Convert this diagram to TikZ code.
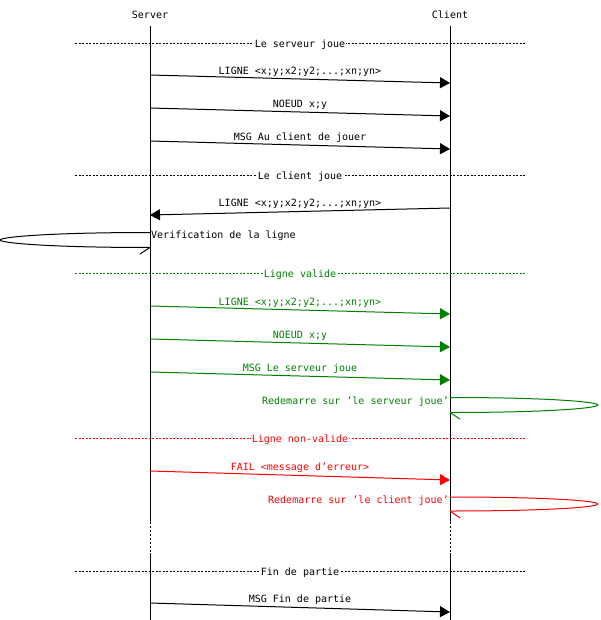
\documentclass[tikz,border=0pt]{standalone}
\usepackage{fontspec}
\setmainfont{DejaVu Sans Mono}
\usepackage{tikz}
\usetikzlibrary{arrows.meta}
\definecolor{okgreen}{RGB}{0,128,0}
\definecolor{errred}{RGB}{255,0,0}

\begin{document}
\begin{tikzpicture}[
			x=1pt, y=-1pt,
			font=\fontsize{10pt}{12pt}\selectfont,
			lifeline/.style={line width=1pt},
			gapline/.style={line width=1pt,dash pattern=on 2pt off 2pt},
			divider/.style={line width=0.8pt,dash pattern=on 2pt off 1.5pt},
			divlabel/.style={midway,fill=white,inner sep=1pt,yshift=-1.5pt},
			msg/.style={line width=1pt,-{Triangle[length=10pt,width=11pt]}},
			msglabel/.style={midway,above=-1pt},
			selfarc/.style={line width=1pt},
			arclabel/.style={inner sep=1pt,yshift=-2pt}
			]
			
			\useasboundingbox (0,0) rectangle (600,620);
			
			\node (srv) at (150,15) {Server};
			\node (cli) at (450,15) {Client};
			
			\coordinate (srvtop) at (150,26);
			\coordinate (srvgap) at (150,522);
			\coordinate (srvres) at (150,553);
			\coordinate (srvend) at (150,620);
			\coordinate (clitop) at (450,26);
			\coordinate (cligap) at (450,522);
			\coordinate (clires) at (450,553);
			\coordinate (cliend) at (450,620);
			
			\draw[lifeline] (srvtop)--(srvgap);
			\draw[gapline] (srvgap)--(srvres);
			\draw[lifeline] (srvres)--(srvend);
			\draw[lifeline] (clitop)--(cligap);
			\draw[gapline] (cligap)--(clires);
			\draw[lifeline] (clires)--(cliend);
			
			\coordinate (d1l) at (75,43);   \coordinate (d1r) at (525,43);
			\coordinate (d2l) at (75,175);  \coordinate (d2r) at (525,175);
			\coordinate (d3l) at (75,273);  \coordinate (d3r) at (525,273);
			\coordinate (d4l) at (75,438);  \coordinate (d4r) at (525,438);
			\coordinate (d5l) at (75,571);  \coordinate (d5r) at (525,571);
			
			\draw[divider] (d1l)--(d1r) node[divlabel] (serveurjoue) {Le serveur joue};
			\draw[divider] (d2l)--(d2r) node[divlabel] (clientjoue) {Le client joue};
			\draw[divider,okgreen] (d3l)--(d3r) node[divlabel] (valide) {Ligne valide};
			\draw[divider,errred] (d4l)--(d4r) node[divlabel] (nonvalide) {Ligne non-valide};
			\draw[divider] (d5l)--(d5r) node[divlabel] (fin) {Fin de partie};
			
			\coordinate (m1s) at (150,75);  \coordinate (m1c) at (450,83);
			\coordinate (m2s) at (150,108); \coordinate (m2c) at (450,116);
			\coordinate (m3s) at (150,141); \coordinate (m3c) at (450,149);
			\coordinate (m4c) at (450,208); \coordinate (m4s) at (150,215);
			\coordinate (m5s) at (150,306); \coordinate (m5c) at (450,314);
			\coordinate (m6s) at (150,339); \coordinate (m6c) at (450,347);
			\coordinate (m7s) at (150,372); \coordinate (m7c) at (450,380);
			\coordinate (m8s) at (150,471); \coordinate (m8c) at (450,480);
			\coordinate (m9s) at (150,603); \coordinate (m9c) at (450,612);
			
			\draw[msg] (m1s)--(m1c) node[msglabel] (ligne1) {LIGNE <x;y;x2;y2;...;xn;yn>};
			\draw[msg] (m2s)--(m2c) node[msglabel] (noeud1) {NOEUD x;y};
			\draw[msg] (m3s)--(m3c) node[msglabel] (auclient) {MSG Au client de jouer};
			\draw[msg] (m4c)--(m4s) node[msglabel] (ligne2) {LIGNE <x;y;x2;y2;...;xn;yn>};
			\draw[msg,okgreen] (m5s)--(m5c) node[msglabel] (ligne3) {LIGNE <x;y;x2;y2;...;xn;yn>};
			\draw[msg,okgreen] (m6s)--(m6c) node[msglabel] (noeud2) {NOEUD x;y};
			\draw[msg,okgreen] (m7s)--(m7c) node[msglabel] (auserveur) {MSG Le serveur joue};
			\draw[msg,errred] (m8s)--(m8c) node[msglabel] (failmsg) {FAIL <message d'erreur>};
			\draw[msg] (m9s)--(m9c) node[msglabel] (finmsg) {MSG Fin de partie};
			
			\coordinate (va) at (150,232.5);
			\coordinate (vtip) at (0,240);
			\coordinate (vb) at (150,247.5);
			\coordinate (vstub) at (140,254);
			\draw[selfarc] (va) .. controls +(-100,0) and +(0,-3) .. (vtip)
				.. controls +(0,3) and +(-100,0) .. (vb);
			\draw[selfarc] (vb)--(vstub);
			\node[arclabel,anchor=west] (verif) at (150,234) {Verification de la ligne};
			
			\coordinate (ga) at (450,397.5);
			\coordinate (gtip) at (598,405);
			\coordinate (gb) at (450,412.5);
			\coordinate (gstub) at (460,419);
			\draw[selfarc,okgreen] (ga) .. controls +(100,0) and +(0,-3) .. (gtip)
				.. controls +(0,3) and +(100,0) .. (gb);
			\draw[selfarc,okgreen] (gb)--(gstub);
			\node[arclabel,anchor=east,text=okgreen] (redemserveur) at (450,400) {Redemarre sur 'le serveur joue'};
			
			\coordinate (ra) at (450,497);
			\coordinate (rtip) at (598,504);
			\coordinate (rb) at (450,511);
			\coordinate (rstub) at (460,518);
			\draw[selfarc,errred] (ra) .. controls +(100,0) and +(0,-3) .. (rtip)
				.. controls +(0,3) and +(100,0) .. (rb);
			\draw[selfarc,errred] (rb)--(rstub);
			\node[arclabel,anchor=east,text=errred] (redemclient) at (450,499) {Redemarre sur 'le client joue'};
			
		\end{tikzpicture}
\end{document}
